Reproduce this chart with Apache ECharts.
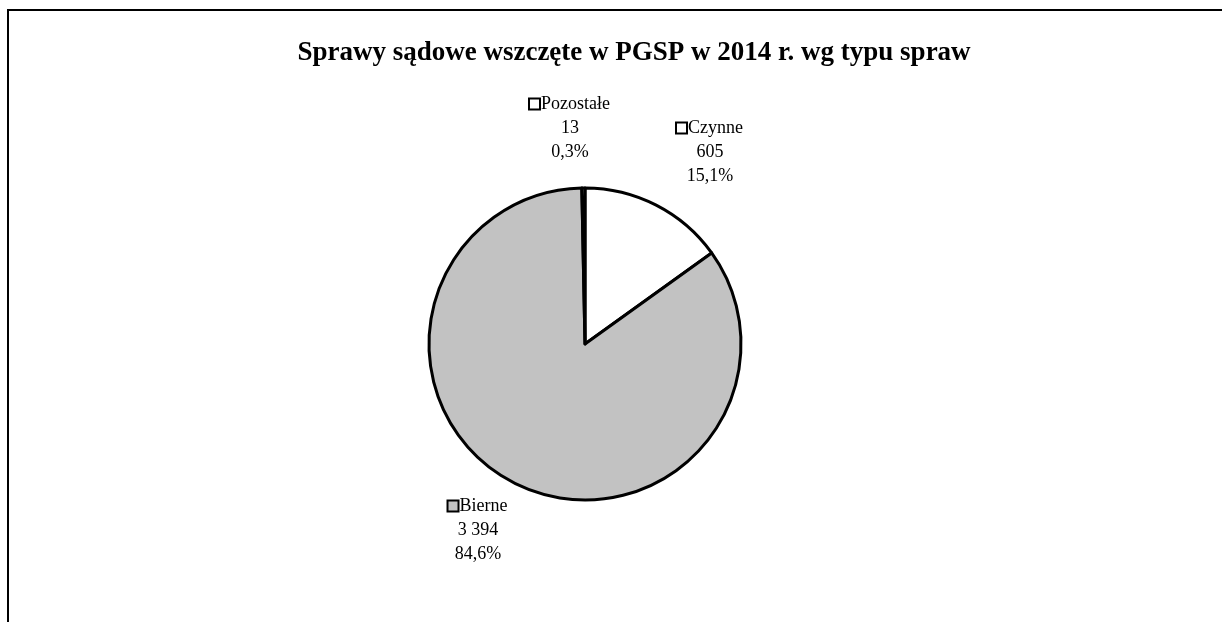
<!DOCTYPE html>
<html>
<head>
    <meta charset="UTF-8">
    <title>Sprawy sądowe wszczęte w PGSP w 2014 r.</title>
    <script type="text/javascript" src="https://cdn.jsdelivr.net/npm/echarts@6/dist/echarts.min.js"></script>
    <style>
        *{margin:0;padding:0}
        html,body{width:100%;height:100%;background:#fff}
        #main{width:1222px;height:622px}
    </style>
</head>
<body>
<div id="main"></div>
<script type="text/javascript">
    // dane
    var categories = ['Czynne', 'Bierne', 'Pozostałe'];
    var values = [605, 3394, 13];
    var percents = ['15,1%', '84,6%', '0,3%'];
    var valueLabels = ['605', '3 394', '13'];

    var fillColors = ['#ffffff', '#c2c2c2', '#ffffff'];
    // środki etykiet (px)
    var labelPos = {
        'Czynne': [710, 152],
        'Bierne': [478, 530],
        'Pozostałe': [570, 128]
    };

    var dataList = categories.map(function (name, i) {
        return {
            name: name,
            value: values[i],
            itemStyle: {color: fillColors[i]},
            label: {
                formatter: '{' + (i === 1 ? 'sqg' : 'sqw') + '|}{n|' + name + '}\n' + valueLabels[i] + '\n' + percents[i]
            }
        };
    });

    var sq = {width: 9, height: 9, borderColor: '#000', borderWidth: 2, padding: 0};

    var option = {
        backgroundColor: '#fff',
        title: {
            text: 'Sprawy sądowe wszczęte w PGSP w 2014 r. wg typu spraw',
            left: 629,
            top: 35,
            textAlign: 'center',
            textStyle: {
                fontFamily: 'Liberation Serif',
                fontWeight: 'bold',
                fontSize: 27,
                color: '#000'
            }
        },
        graphic: [{
            type: 'rect',
            shape: {x: 8, y: 10, width: 1400, height: 800},
            style: {fill: 'none', stroke: '#000', lineWidth: 2}
        }],
        series: [{
            type: 'pie',
            center: [585, 344],
            radius: 156,
            startAngle: 90,
            clockwise: true,
            animation: false,
            silent: true,
            itemStyle: {borderColor: '#000', borderWidth: 3},
            label: {
                show: true,
                position: 'outside',
                fontFamily: 'Liberation Serif',
                fontSize: 18,
                color: '#000',
                lineHeight: 24,
                align: 'center',
                rich: {
                    sqw: Object.assign({backgroundColor: '#fff'}, sq),
                    sqg: Object.assign({backgroundColor: '#c2c2c2'}, sq),
                    n: {fontFamily: 'Liberation Serif', fontSize: 18, color: '#000', lineHeight: 24, padding: [0, 0, 0, 2]}
                }
            },
            labelLine: {show: false},
            labelLayout: function (params) {
                var p = labelPos[categories[params.dataIndex]];
                return {x: p[0], y: p[1], align: 'center', verticalAlign: 'middle'};
            },
            data: dataList
        }]
    };

    var myChart = echarts.init(document.getElementById('main'));
    myChart.setOption(option);
</script>
</body>
</html>
